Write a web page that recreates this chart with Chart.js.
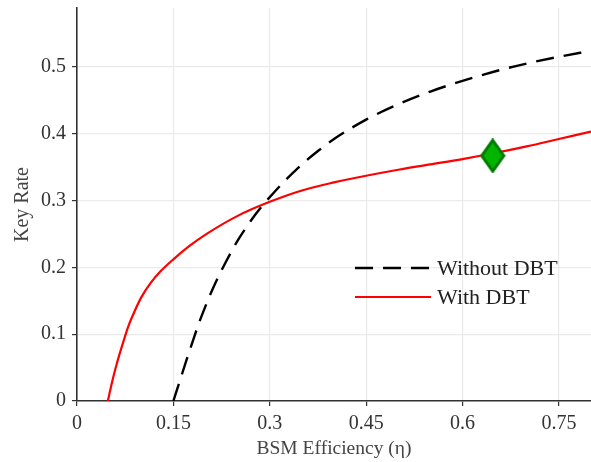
<!DOCTYPE html>
<html>
<head>
<meta charset="utf-8">
<script src="https://cdn.jsdelivr.net/npm/chart.js@4.4.1/dist/chart.umd.min.js"></script>
<style>
  body { margin: 0; background: #fff; }
  canvas { display: block; }
</style>
</head>
<body>
<canvas id="keyRateChart" width="591" height="462"></canvas>
<script>
// ===== DATA =====
const xTicks = [0, 0.15, 0.3, 0.45, 0.6, 0.75];
const yTicks = [0, 0.1, 0.2, 0.3, 0.4, 0.5];

const withoutEta = [0.15, 0.16, 0.17, 0.18, 0.19, 0.2, 0.21, 0.22, 0.23, 0.24, 0.25, 0.26, 0.27, 0.28, 0.29, 0.3, 0.325, 0.35, 0.375, 0.4, 0.45, 0.5, 0.55, 0.6, 0.65, 0.7, 0.75, 0.8];
const withoutRate = [0, 0.03, 0.06, 0.089, 0.117, 0.142, 0.165, 0.186, 0.205, 0.223, 0.24, 0.255, 0.269, 0.282, 0.294, 0.305, 0.331, 0.354, 0.374, 0.392, 0.421, 0.444, 0.463, 0.479, 0.493, 0.505, 0.515, 0.524];

const withEta = [0.048, 0.055, 0.062, 0.07, 0.08, 0.09, 0.1, 0.115, 0.13, 0.15, 0.175, 0.2, 0.25, 0.3, 0.35, 0.4, 0.45, 0.5, 0.55, 0.6, 0.65, 0.7, 0.75, 0.8];
const withRate = [0, 0.03, 0.056, 0.082, 0.112, 0.135, 0.155, 0.177, 0.194, 0.212, 0.232, 0.249, 0.277, 0.298, 0.315, 0.327, 0.337, 0.346, 0.354, 0.362, 0.371, 0.381, 0.392, 0.403];

const markerEta = [0.647];
const markerRate = [0.367];

const seriesLabels = ['Without DBT', 'With DBT'];

function toPoints(xs, ys) {
    return xs.map(function (x, i) { return { x: x, y: ys[i] }; });
}

// ===== DIAMOND MARKER =====
const diamond = document.createElement('canvas');
diamond.width = 26;
diamond.height = 35;
(function () {
    const c = diamond.getContext('2d');
    c.beginPath();
    c.moveTo(13, 2);
    c.lineTo(24, 17.5);
    c.lineTo(13, 33);
    c.lineTo(2, 17.5);
    c.closePath();
    c.fillStyle = '#00b400';
    c.fill();
    c.lineWidth = 3;
    c.strokeStyle = '#007a00';
    c.stroke();
})();

// ===== LEGEND INSIDE PLOT =====
const insideLegend = {
    id: 'insideLegend',
    afterDatasetsDraw: function (chart) {
        const ctx = chart.ctx;
        const x0 = 355, x1 = 431, tx = 437;
        const rows = [268, 297];
        ctx.save();
        chart.data.datasets.forEach(function (ds) {
            const idx = seriesLabels.indexOf(ds.label);
            if (idx < 0) return;
            const y = rows[idx];
            ctx.beginPath();
            ctx.setLineDash(ds.borderDash || []);
            ctx.lineWidth = ds.borderWidth;
            ctx.strokeStyle = ds.borderColor;
            ctx.moveTo(x0, y);
            ctx.lineTo(x1, y);
            ctx.stroke();
            ctx.setLineDash([]);
            ctx.fillStyle = '#222';
            ctx.font = '22px "Liberation Serif", serif';
            ctx.textBaseline = 'middle';
            ctx.fillText(ds.label, tx, y + 1);
        });
        ctx.restore();
    }
};

// ===== CHART =====
const ctx = document.getElementById('keyRateChart');

new Chart(ctx, {
    type: 'line',
    data: {
        datasets: [{
            label: 'marker',
            data: toPoints(markerEta, markerRate),
            showLine: false,
            pointStyle: diamond,
            pointRadius: 13,
            borderColor: '#007a00',
            backgroundColor: '#00b400'
        }, {
            label: seriesLabels[0],
            data: toPoints(withoutEta, withoutRate),
            borderColor: '#000000',
            borderWidth: 2.4,
            borderDash: [18, 10],
            pointRadius: 0,
            fill: false,
            cubicInterpolationMode: 'monotone'
        }, {
            label: seriesLabels[1],
            data: toPoints(withEta, withRate),
            borderColor: '#ff0000',
            borderWidth: 2.2,
            pointRadius: 0,
            fill: false,
            cubicInterpolationMode: 'monotone'
        }]
    },
    options: {
        responsive: false,
        animation: false,
        layout: { autoPadding: false, padding: { top: 8, left: 0, right: 0, bottom: 0 } },
        plugins: {
            legend: { display: false },
            tooltip: { enabled: false }
        },
        scales: {
            x: {
                type: 'linear',
                min: 0,
                max: 0.8,
                afterBuildTicks: function (axis) {
                    axis.ticks = xTicks.map(function (v) { return { value: v }; });
                },
                afterFit: function (axis) {
                    axis.height = 61;
                    axis.paddingLeft = 0;
                    axis.paddingRight = 0;
                },
                ticks: {
                    callback: function (value) { return String(+value.toFixed(2)); },
                    font: { family: '"Liberation Serif", serif', size: 20 },
                    color: '#333',
                    padding: 6,
                    maxRotation: 0
                },
                grid: {
                    color: '#ebebeb',
                    tickColor: '#333',
                    tickLength: 5,
                    lineWidth: 1.2
                },
                border: { color: '#333', width: 1.6 },
                title: {
                    display: true,
                    text: 'BSM Efficiency (η)',
                    font: { family: '"Liberation Serif", serif', size: 19.5 },
                    color: '#444',
                    padding: { top: 0, bottom: 1 }
                }
            },
            y: {
                min: 0,
                max: 0.588,
                afterBuildTicks: function (axis) {
                    axis.ticks = yTicks.map(function (v) { return { value: v }; });
                },
                afterFit: function (axis) {
                    axis.width = 77;
                    axis.paddingTop = 0;
                    axis.paddingBottom = 0;
                },
                ticks: {
                    callback: function (value) { return String(+value.toFixed(2)); },
                    font: { family: '"Liberation Serif", serif', size: 20 },
                    color: '#333',
                    padding: 6
                },
                grid: {
                    color: '#ebebeb',
                    tickColor: '#333',
                    tickLength: 5,
                    lineWidth: 1.2
                },
                border: { color: '#333', width: 1.6 },
                title: {
                    display: true,
                    text: 'Key Rate',
                    font: { family: '"Liberation Serif", serif', size: 20 },
                    color: '#444',
                    padding: { top: 11, bottom: 0 }
                }
            }
        }
    },
    plugins: [insideLegend]
});
</script>
</body>
</html>
